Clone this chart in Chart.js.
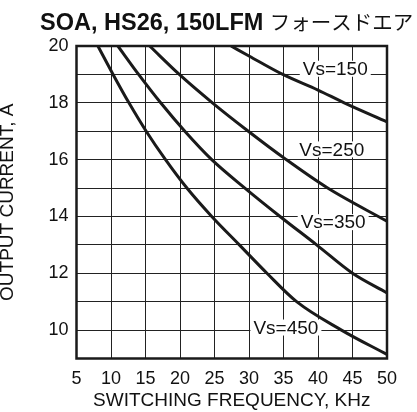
<!DOCTYPE html>
<html>
<head>
<meta charset="utf-8">
<script src="https://cdn.jsdelivr.net/npm/chart.js@4"></script>
<style>
  html, body { margin: 0; padding: 0; background: #fff; }
  #wrap { width: 417px; height: 412px; }
</style>
</head>
<body>
<div id="wrap"><canvas id="soaChart" width="417" height="412"></canvas></div>
<script>
// 読み取った曲線データ (周波数 kHz → 出力電流 A)
const vs150X = [27.4, 30, 34.9, 40, 43.8, 50];
const vs150Y = [20, 19.65, 19, 18.45, 18, 17.33];

const vs250X = [15.6, 19.9, 24.7, 29.9, 35.4, 41.4, 50];
const vs250Y = [20, 19, 18, 17, 16, 15, 13.83];

const vs350X = [11.0, 14.0, 17.2, 20.7, 24.6, 29.4, 34.5, 39.8, 45.0, 50];
const vs350Y = [20, 19, 18, 17, 16, 15, 14, 13, 12, 11.31];

const vs450X = [8.1, 10.3, 12.6, 15.1, 17.9, 21.0, 24.6, 28.6, 32.6, 36.9, 43.4, 50];
const vs450Y = [20, 19, 18, 17, 16, 15, 14, 13, 12, 11, 10, 9.14];

const seriesNames = ["Vs=150", "Vs=250", "Vs=350", "Vs=450"];
const yTickLabels = [10, 12, 14, 16, 18, 20];
const xTickLabels = [5, 10, 15, 20, 25, 30, 35, 40, 45, 50];

// ラベルの置き場所 (データ座標)
const labelSpots = [
  { x: 42.5, y: 19.2 },
  { x: 42.0, y: 16.36 },
  { x: 42.2, y: 13.8 },
  { x: 35.35, y: 10.09 },
];

const toPoints = (xs, ys) => xs.map((x, i) => ({ x: x, y: ys[i] }));

const curve = (label, xs, ys) => ({
  label: label,
  data: toPoints(xs, ys),
  borderColor: "#1a1a1a",
  borderWidth: 3,
  pointRadius: 0,
  fill: false,
  cubicInterpolationMode: "monotone",
});

// 曲線上のラベル (白背景)
const curveLabels = {
  id: "curveLabels",
  beforeDatasetsDraw(chart) {
    const { ctx, scales } = chart;
    ctx.save();
    ctx.font = '19px "Liberation Sans", Arial, sans-serif';
    ctx.textAlign = "center";
    ctx.textBaseline = "middle";
    seriesNames.forEach((name, i) => {
      const px = scales.x.getPixelForValue(labelSpots[i].x);
      const py = scales.y.getPixelForValue(labelSpots[i].y);
      const w = ctx.measureText(name).width;
      ctx.fillStyle = "#fff";
      ctx.fillRect(px - w / 2 - 3, py - 8, w + 6, 16);
      ctx.fillStyle = "#111";
      ctx.fillText(name, px, py + 1);
    });
    ctx.restore();
  },
};

// 枠線とタイトル
const frameAndTitle = {
  id: "frameAndTitle",
  afterDraw(chart) {
    const { ctx, chartArea } = chart;
    ctx.save();
    ctx.strokeStyle = "#1a1a1a";
    ctx.lineWidth = 2.5;
    ctx.strokeRect(chartArea.left, chartArea.top,
      chartArea.right - chartArea.left, chartArea.bottom - chartArea.top);

    const boldPart = "SOA, HS26, 150LFM ";
    const kanaPart = "フォースドエア";
    const boldFont = 'bold 23.5px "Liberation Sans", Arial, sans-serif';
    const kanaFont = '20.5px "Noto Sans CJK JP", sans-serif';
    ctx.font = boldFont;
    const w1 = ctx.measureText(boldPart).width;
    ctx.fillStyle = "#111";
    ctx.textBaseline = "alphabetic";
    ctx.textAlign = "left";
    ctx.fillText(boldPart, 40, 30);
    ctx.font = kanaFont;
    ctx.fillText(kanaPart, 40 + w1, 30);
    ctx.restore();
  },
};

const soaChart = new Chart(document.getElementById("soaChart"), {
  type: "line",
  data: {
    datasets: [
      curve(seriesNames[0], vs150X, vs150Y),
      curve(seriesNames[1], vs250X, vs250Y),
      curve(seriesNames[2], vs350X, vs350Y),
      curve(seriesNames[3], vs450X, vs450Y),
    ],
  },
  options: {
    responsive: false,
    animation: false,
    layout: {
      padding: { top: 46, right: 30, left: 0, bottom: 0 },
    },
    plugins: {
      legend: { display: false },
      title: { display: false },
      tooltip: { enabled: false },
    },
    scales: {
      x: {
        type: "linear",
        min: 5,
        max: 50,
        afterFit: (scale) => { scale.height = 53.5; },
        afterBuildTicks: (scale) => {
          scale.ticks = xTickLabels.map((v) => ({ value: v }));
        },
        grid: { color: "#222", lineWidth: 1, drawTicks: false },
        border: { display: false },
        ticks: {
          color: "#111",
          padding: 10,
          maxRotation: 0,
          autoSkip: false,
          font: { family: '"Liberation Sans", Arial, sans-serif', size: 18 },
        },
        title: {
          display: true,
          text: "SWITCHING FREQUENCY, KHz",
          color: "#111",
          padding: 0,
          font: { family: '"Liberation Sans", Arial, sans-serif', size: 19, lineHeight: 1.2 },
        },
      },
      y: {
        min: 9,
        max: 20,
        afterFit: (scale) => { scale.width = 76.5; },
        grid: { color: "#222", lineWidth: 1, drawTicks: false },
        border: { display: false },
        ticks: {
          stepSize: 1,
          color: "#111",
          padding: 8,
          autoSkip: false,
          callback: (value) => (yTickLabels.includes(value) ? String(value) : ""),
          font: { family: '"Liberation Sans", Arial, sans-serif', size: 18 },
        },
        title: {
          display: true,
          text: "OUTPUT CURRENT, A",
          color: "#111",
          padding: 0,
          font: { family: '"Liberation Sans", Arial, sans-serif', size: 19, lineHeight: 0.85 },
        },
      },
    },
  },
  plugins: [curveLabels, frameAndTitle],
});
</script>
</body>
</html>
